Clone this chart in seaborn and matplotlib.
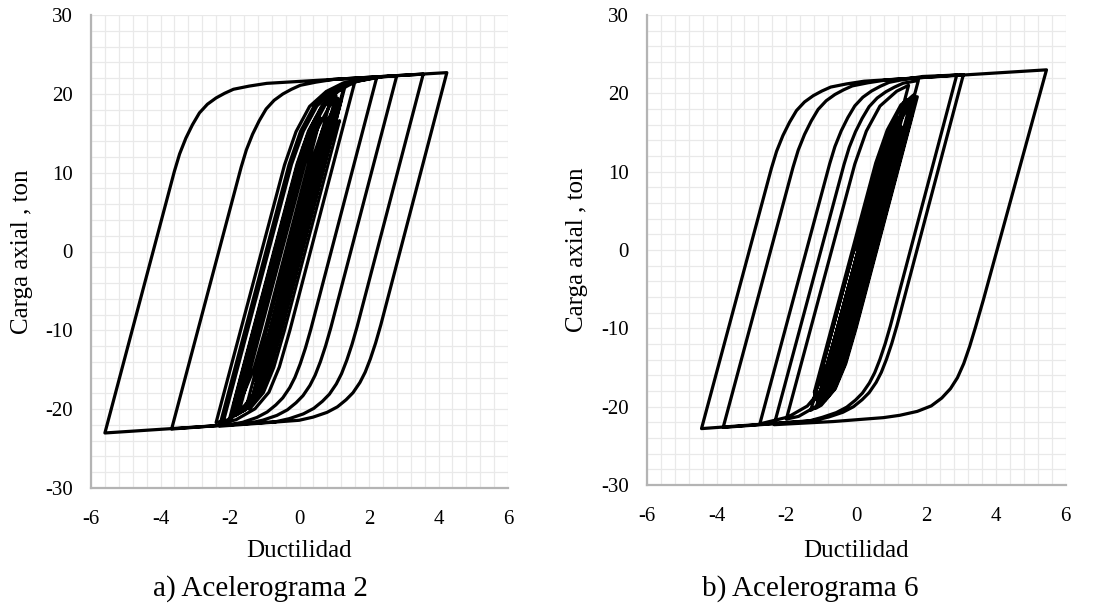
import matplotlib
matplotlib.use("Agg")
import matplotlib.pyplot as plt
from matplotlib.ticker import MultipleLocator
import seaborn as sns
import pandas as pd

# ---------------- data ----------------
x_ticks = [-6, -4, -2, 0, 2, 4, 6]
y_ticks = [-30, -20, -10, 0, 10, 20, 30]
x_label = "Ductilidad"
y_label = "Carga axial , ton"
captions = ["a) Acelerograma 2", "b) Acelerograma 6"]

# (ductilidad, carga) path of the hysteresis, Acelerograma 2
acel2_xy = [
    (0, 0), (0.68, 11.3), (1.01, 15.5), (1.15, 16.6),
    (-0.44, -10.1), (-0.74, -14.7), (-1.04, -17.9), (-1.44, -20.0),
    (0.44, 11.2), (0.77, 15.4), (1.0, 17.3),
    (-0.63, -10.1), (-0.93, -14.7), (-1.23, -17.9), (-1.63, -20.0), (-2.0, -21.0),
    (-0.07, 11.1), (0.26, 15.3), (0.65, 18.5), (1.13, 20.4), (1.3, 20.8),
    (-0.54, -10.1), (-0.84, -14.7), (-1.14, -17.9), (-1.54, -20.0), (-2.09, -21.4), (-2.4, -21.7),
    (-0.43, 11.0), (-0.10, 15.2), (0.29, 18.4), (0.77, 20.3), (1.27, 21.4), (1.6, 21.67),
    (-0.28, -10.05), (-0.58, -14.65), (-0.88, -17.85), (-1.28, -19.95), (-1.83, -21.35), (-2.2, -21.72),
    (-0.23, 11.06), (0.11, 15.26), (0.50, 18.46), (0.98, 20.36), (1.48, 21.46), (2.22, 22.04),
    (0.32, -9.96), (0.17, -12.26), (0.02, -14.26), (-0.13, -15.96), (-0.28, -17.26), (-0.48, -18.56),
    (-0.68, -19.46), (-0.93, -20.36), (-1.23, -21.06), (-1.63, -21.66), (-2.03, -22.0),
    (-0.03, 11.2), (0.12, 13.4), (0.30, 15.4), (0.49, 17.1), (0.69, 18.6), (0.92, 19.7),
    (1.17, 20.5), (1.42, 21.1), (1.67, 21.6), (2.12, 22.0), (2.63, 22.25), (2.80, 22.31),
    (0.90, -9.69), (0.75, -11.99), (0.60, -13.99), (0.45, -15.69), (0.30, -16.99), (0.10, -18.29),
    (-0.10, -19.19), (-0.35, -20.09), (-0.65, -20.79), (-1.05, -21.39), (-1.45, -21.79), (-3.68, -22.52),
    (-1.68, 10.68), (-1.53, 12.88), (-1.35, 14.88), (-1.16, 16.58), (-0.96, 18.08), (-0.73, 19.18),
    (-0.48, 19.98), (-0.23, 20.58), (0.02, 21.08), (0.47, 21.48), (0.98, 21.83), (3.56, 22.50),
    (1.66, -9.5), (1.51, -11.8), (1.36, -13.8), (1.21, -15.5), (1.06, -16.8), (0.86, -18.1),
    (0.66, -19.0), (0.41, -19.9), (0.11, -20.6), (-0.29, -21.2), (-0.69, -21.6), (-5.6, -23.02),
    (-3.6, 10.18), (-3.45, 12.38), (-3.27, 14.38), (-3.08, 16.08), (-2.88, 17.58), (-2.65, 18.68),
    (-2.4, 19.48), (-2.15, 20.08), (-1.9, 20.58), (-1.45, 20.98), (-0.94, 21.33), (4.24, 22.69),
    (2.34, -9.31), (2.19, -11.61), (2.04, -13.61), (1.89, -15.31), (1.74, -16.61), (1.54, -17.91),
    (1.34, -18.81), (1.09, -19.71), (0.79, -20.41), (0.39, -21.01), (-0.01, -21.41), (-2.3, -22.16),
    (-0.3, 11.04), (0.03, 15.24), (0.42, 18.44), (0.9, 20.34), (1.3, 21.22),
    (-0.56, -10.13), (-0.86, -14.73), (-1.16, -17.93), (-1.56, -20.03), (-1.75, -20.51),
    (0.16, 11.16), (0.49, 15.36), (0.88, 18.56), (1.1, 19.44),
    (-0.66, -10.15), (-0.96, -14.75), (-1.26, -17.95), (-1.35, -18.44),
    (0.44, 11.23), (0.77, 15.43), (0.9, 16.52),
    (-0.68, -10.16), (-0.98, -14.76), (-1.28, -17.96), (-1.68, -20.06), (-1.9, -20.61),
    (0.01, 11.12), (0.34, 15.32), (0.73, 18.52), (1.05, 19.78),
    (-0.73, -10.17), (-1.03, -14.77), (-1.2, -16.6),
    (0.48, 11.24), (0.81, 15.44), (0.9, 16.2),
    (-0.67, -10.15), (-0.97, -14.75), (-1.27, -17.95), (-1.5, -19.18),
    (0.33, 11.21), (0.66, 15.41), (1.05, 18.61), (1.2, 19.2),
    (-0.54, -10.12), (-0.84, -14.72), (-1.14, -17.92), (-1.54, -20.02), (-1.85, -20.81),
    (0.08, 11.14), (0.41, 15.34), (0.6, 16.94),
    (-1.01, -10.25), (-1.31, -14.85), (-1.61, -18.05), (-1.9, -19.55),
    (-0.05, 11.11), (0.28, 15.31), (0.67, 18.51), (0.9, 19.43),
    (-0.86, -10.21), (-1.16, -14.81), (-1.3, -16.3),
]

# (ductilidad, carga) path of the hysteresis, Acelerograma 6
acel6_xy = [
    (0, 0), (0.67, 11.14), (1.0, 15.34), (1.2, 16.97),
    (-0.40, -10.02), (-0.70, -14.62), (-1.0, -17.82), (-1.40, -19.92), (-1.95, -21.32), (-2.76, -22.2),
    (-0.76, 11.0), (-0.61, 13.2), (-0.43, 15.2), (-0.24, 16.9), (-0.04, 18.4), (0.19, 19.5),
    (0.44, 20.3), (0.69, 20.9), (0.94, 21.4), (1.39, 21.8), (1.90, 22.15), (2.88, 22.34),
    (0.98, -9.66), (0.83, -11.96), (0.68, -13.96), (0.53, -15.66), (0.38, -16.96), (0.18, -18.26),
    (-0.02, -19.16), (-0.27, -20.06), (-0.57, -20.76), (-0.97, -21.36), (-1.37, -21.85), (-3.81, -22.65),
    (-1.81, 10.55), (-1.66, 12.75), (-1.48, 14.75), (-1.29, 16.45), (-1.09, 17.95), (-0.86, 19.05),
    (-0.61, 19.85), (-0.36, 20.45), (-0.11, 20.95), (0.34, 21.35), (0.85, 21.7), (3.07, 22.39),
    (1.17, -9.61), (1.02, -11.91), (0.87, -13.91), (0.72, -15.61), (0.57, -16.91), (0.37, -18.21),
    (0.17, -19.11), (-0.08, -20.01), (-0.38, -20.71), (-0.78, -21.31), (-1.18, -21.75), (-4.43, -22.80),
    (-2.43, 10.4), (-2.28, 12.6), (-2.10, 14.6), (-1.91, 16.3), (-1.71, 17.8), (-1.48, 18.9),
    (-1.23, 19.7), (-0.98, 20.3), (-0.73, 20.8), (-0.28, 21.2), (0.23, 21.55), (5.45, 23.0),
    (3.64, -6.4), (3.42, -9.8), (3.25, -12.3), (3.08, -14.5), (2.90, -16.3), (2.70, -17.7),
    (2.45, -18.9), (2.15, -19.9), (1.75, -20.6), (1.25, -21.1), (0.78, -21.4), (-0.66, -21.9), (-2.35, -22.3),
    (-0.35, 10.9), (-0.20, 13.1), (-0.02, 15.1), (0.17, 16.8), (0.37, 18.3), (0.60, 19.4),
    (0.85, 20.2), (1.10, 20.8), (1.35, 21.3), (1.78, 21.64),
    (-0.10, -9.94), (-0.40, -14.54), (-0.70, -17.74), (-1.10, -19.84), (-1.65, -21.24), (-2.0, -21.59),
    (-0.04, 10.97), (0.29, 15.17), (0.68, 18.37), (1.16, 20.27), (1.5, 21.02),
    (-0.34, -10.0), (-0.64, -14.6), (-0.94, -17.8), (-1.23, -19.31),
    (0.60, 11.13), (0.93, 15.33), (1.32, 18.53), (1.64, 19.78),
    (-0.13, -9.94), (-0.43, -14.54), (-0.73, -17.74), (-1.04, -19.39),
    (0.80, 11.17), (1.13, 15.37), (1.52, 18.57), (1.55, 18.68),
    (-0.15, -9.95), (-0.45, -14.55), (-0.62, -16.4),
    (1.04, 11.23), (1.37, 15.43), (1.6, 17.28),
    (-0.02, -9.92), (-0.32, -14.52), (-0.62, -17.72), (-0.9, -19.22),
    (0.93, 11.2), (1.26, 15.4), (1.3, 15.7),
    (-0.22, -9.97), (-0.52, -14.57), (-0.82, -17.77), (-1.1, -19.22),
    (0.73, 11.16), (1.06, 15.36), (1.45, 18.56), (1.7, 19.55),
    (-0.05, -9.92), (-0.35, -14.52), (-0.65, -17.72), (-1.05, -19.82), (-1.3, -20.46),
    (0.60, 11.12), (0.93, 15.32), (1.0, 15.87),
    (-0.54, -10.05), (-0.84, -14.65), (-1.14, -17.85), (-1.2, -18.17),
    (0.56, 11.12), (0.89, 15.32), (1.28, 18.52), (1.45, 19.18),
    (-0.28, -9.98), (-0.58, -14.58), (-0.88, -17.78), (-1.0, -18.4),
    (0.78, 11.17), (1.11, 15.37), (1.50, 18.57), (1.75, 19.56),
    (0.0, -9.91), (-0.3, -14.51), (-0.6, -17.71), (-1.0, -19.81), (-1.15, -20.19),
    (0.74, 11.16), (1.07, 15.36), (1.2, 16.44),
    (-0.37, -10.01), (-0.67, -14.61), (-0.85, -16.53),
]

# ---------------- style ----------------
sns.set_theme(style="white")
plt.rcParams["font.family"] = ["Liberation Serif", "DejaVu Serif"]
plt.rcParams["axes.unicode_minus"] = False

W, H = 1097, 603
fig = plt.figure(figsize=(W / 100, H / 100), dpi=100)

# axes rectangles in pixels: left, top, right, bottom
rects = [(91, 15, 508, 488), (646.7, 15, 1065.7, 485)]
ylabel_x = [22, 577.5]
caption_x = [260, 810]

panels = [acel2_xy, acel6_xy]
grid_col = "#e9e9e9"
spine_col = "#b4b4b4"

for i, (pts, (l, t, r, b)) in enumerate(zip(panels, rects)):
    ax = fig.add_axes([l / W, 1 - b / H, (r - l) / W, (b - t) / H])
    df = pd.DataFrame(pts, columns=["x", "y"])
    sns.lineplot(data=df, x="x", y="y", sort=False, estimator=None,
                 color="black", linewidth=2.3, ax=ax,
                 solid_joinstyle="round", solid_capstyle="round")
    ax.set_xlim(-6, 6)
    ax.set_ylim(-30, 30)
    ax.set_xticks(x_ticks)
    ax.set_yticks(y_ticks)
    ax.set_xticklabels([str(v) for v in x_ticks])
    ax.set_yticklabels([str(v) for v in y_ticks])
    ax.xaxis.set_minor_locator(MultipleLocator(0.4))
    ax.yaxis.set_minor_locator(MultipleLocator(2))
    ax.grid(which="both", color=grid_col, linewidth=0.9)
    ax.set_axisbelow(True)
    for s in ["top", "right"]:
        ax.spines[s].set_visible(False)
    for s in ["left", "bottom"]:
        ax.spines[s].set_color(spine_col)
        ax.spines[s].set_linewidth(1.6)
    ax.tick_params(which="major", direction="in", length=5, width=1.4,
                   color=spine_col, labelsize=15, labelcolor="black")
    ax.tick_params(axis="y", pad=13)
    ax.tick_params(axis="x", pad=16)
    ax.tick_params(which="minor", length=0)
    ax.set_xlabel("")
    ax.set_ylabel("")

    cx = (l + r) / 2
    cy = (t + b) / 2
    fig.text(cx / W, 1 - 556.7 / H, x_label, ha="center", va="baseline",
             fontsize=18, color="black")
    fig.text(ylabel_x[i] / W, 1 - cy / H, y_label, ha="center", va="center",
             rotation=90, fontsize=18, color="black")
    fig.text(caption_x[i] / W, 1 - 596 / H, captions[i], ha="center",
             va="baseline", fontsize=21, color="black")

fig.savefig("out.png", dpi=100, facecolor="white")
